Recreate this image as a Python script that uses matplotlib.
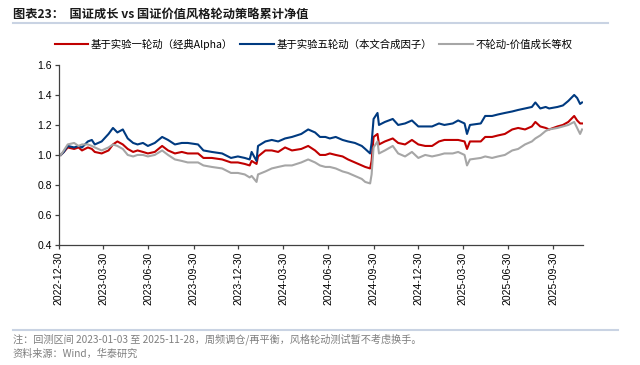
import pandas as pd
import matplotlib
matplotlib.use('Agg')
import matplotlib.pyplot as plt
import matplotlib.dates as mdates

plt.rcParams['font.family'] = ['Liberation Sans', 'Noto Sans CJK SC', 'DejaVu Sans']

dates = ["2023-01-03", "2023-01-09", "2023-01-17", "2023-01-30", "2023-02-08", "2023-02-15",
         "2023-02-27", "2023-03-07", "2023-03-13", "2023-03-27", "2023-04-10", "2023-04-19",
         "2023-04-28", "2023-05-09", "2023-05-19", "2023-05-30", "2023-06-08", "2023-06-19",
         "2023-06-29", "2023-07-13", "2023-07-28", "2023-08-09", "2023-08-23", "2023-09-06",
         "2023-09-18", "2023-10-09", "2023-10-20", "2023-11-06", "2023-11-27", "2023-12-15",
         "2023-12-29", "2024-01-12", "2024-01-22", "2024-01-26", "2024-02-05", "2024-02-08",
         "2024-02-23", "2024-03-07", "2024-03-20", "2024-04-03", "2024-04-17", "2024-05-06",
         "2024-05-20", "2024-06-03", "2024-06-13", "2024-06-24", "2024-07-03", "2024-07-15",
         "2024-07-29", "2024-08-09", "2024-08-23", "2024-09-06", "2024-09-13", "2024-09-23",
         "2024-09-26", "2024-09-30", "2024-10-08", "2024-10-11", "2024-10-23", "2024-11-08",
         "2024-11-19", "2024-12-03", "2024-12-17", "2024-12-30", "2025-01-13", "2025-01-27",
         "2025-02-10", "2025-02-21", "2025-03-10", "2025-03-21", "2025-04-03", "2025-04-08",
         "2025-04-14", "2025-05-06", "2025-05-15", "2025-05-29", "2025-06-10", "2025-06-24",
         "2025-07-09", "2025-07-21", "2025-08-04", "2025-08-18", "2025-08-25", "2025-09-04",
         "2025-09-15", "2025-09-22", "2025-10-09", "2025-10-20", "2025-10-31", "2025-11-12",
         "2025-11-18", "2025-11-24", "2025-11-28"]

exp1_alpha = [1.00, 1.02, 1.05, 1.04, 1.05, 1.03, 1.05, 1.04, 1.02, 1.01, 1.03, 1.07,
              1.09, 1.07, 1.04, 1.02, 1.03, 1.02, 1.01, 1.02, 1.06, 1.03, 1.01, 1.02,
              1.01, 1.01, 0.98, 0.98, 0.97, 0.95, 0.95, 0.94, 0.93, 0.96, 0.94, 0.99,
              1.03, 1.03, 1.02, 1.05, 1.03, 1.04, 1.06, 1.03, 1.00, 1.00, 1.01, 1.00,
              0.99, 0.97, 0.95, 0.93, 0.92, 0.91, 0.96, 1.12, 1.14, 1.07, 1.09, 1.11,
              1.08, 1.07, 1.10, 1.07, 1.06, 1.06, 1.09, 1.10, 1.10, 1.10, 1.09, 1.04,
              1.09, 1.09, 1.12, 1.12, 1.13, 1.14, 1.17, 1.18, 1.17, 1.19, 1.22, 1.19,
              1.18, 1.17, 1.19, 1.20, 1.22, 1.26, 1.23, 1.21, 1.21]

exp5_factor = [1.00, 1.02, 1.06, 1.05, 1.06, 1.05, 1.09, 1.10, 1.07, 1.09, 1.14, 1.18,
               1.15, 1.17, 1.11, 1.08, 1.07, 1.08, 1.06, 1.08, 1.12, 1.10, 1.07, 1.08,
               1.08, 1.07, 1.03, 1.02, 1.01, 0.98, 0.99, 0.98, 0.97, 1.02, 0.96, 1.06,
               1.09, 1.10, 1.09, 1.11, 1.12, 1.14, 1.17, 1.15, 1.12, 1.12, 1.11, 1.12,
               1.10, 1.09, 1.08, 1.06, 1.04, 1.01, 1.08, 1.24, 1.28, 1.20, 1.22, 1.24,
               1.20, 1.21, 1.23, 1.19, 1.19, 1.19, 1.21, 1.20, 1.21, 1.23, 1.21, 1.14,
               1.20, 1.21, 1.26, 1.26, 1.27, 1.28, 1.29, 1.30, 1.31, 1.32, 1.35, 1.31,
               1.32, 1.31, 1.32, 1.33, 1.36, 1.40, 1.38, 1.34, 1.35]

equal_weight = [1.00, 1.03, 1.07, 1.08, 1.06, 1.07, 1.07, 1.06, 1.05, 1.03, 1.05, 1.07,
                1.06, 1.04, 1.00, 0.99, 1.00, 1.00, 0.99, 1.00, 1.03, 1.00, 0.97, 0.96,
                0.95, 0.95, 0.93, 0.92, 0.91, 0.88, 0.88, 0.87, 0.85, 0.86, 0.82, 0.87,
                0.89, 0.91, 0.92, 0.93, 0.93, 0.95, 0.97, 0.95, 0.93, 0.92, 0.92, 0.91,
                0.89, 0.88, 0.86, 0.84, 0.82, 0.81, 0.87, 1.05, 1.09, 1.01, 1.03, 1.06,
                1.01, 0.99, 1.02, 0.98, 1.00, 0.99, 1.00, 1.01, 1.01, 1.02, 1.00, 0.93,
                0.97, 0.98, 0.99, 0.98, 0.99, 1.00, 1.03, 1.04, 1.07, 1.09, 1.11, 1.13,
                1.16, 1.17, 1.18, 1.19, 1.20, 1.22, 1.18, 1.14, 1.17]

tick_dates = ["2022-12-30", "2023-03-30", "2023-06-30", "2023-09-30", "2023-12-30", "2024-03-30",
              "2024-06-30", "2024-09-30", "2024-12-30", "2025-03-30", "2025-06-30", "2025-09-30"]

x = pd.to_datetime(dates)
cjk = ['Noto Sans CJK SC', 'DejaVu Sans']

fig = plt.figure(figsize=(6.4, 3.65), dpi=100)
ax = fig.add_axes([0.092, 0.329, 0.819, 0.493])

red = "#C00000"
navy = "#003A80"
grey = "#A6A6A6"

ax.plot(x, exp1_alpha, color=red, lw=1.5, label="基于实验一轮动（经典Alpha）")
ax.plot(x, exp5_factor, color=navy, lw=1.5, label="基于实验五轮动（本文合成因子）")
ax.plot(x, equal_weight, color=grey, lw=1.5, label="不轮动-价值成长等权")

ax.set_ylim(0.4, 1.6)
ax.set_yticks([0.4, 0.6, 0.8, 1.0, 1.2, 1.4, 1.6])
ax.yaxis.set_major_formatter(matplotlib.ticker.FormatStrFormatter('%.1f'))
ax.set_xlim(pd.Timestamp("2022-12-30"), pd.Timestamp("2025-11-30"))
ax.set_xticks(pd.to_datetime(tick_dates))
ax.xaxis.set_major_formatter(mdates.DateFormatter('%Y-%m-%d'))
plt.setp(ax.get_xticklabels(), rotation=90)

for s in ["top", "right"]:
    ax.spines[s].set_visible(False)
for s in ["left", "bottom"]:
    ax.spines[s].set_color("#404040")
    ax.spines[s].set_linewidth(0.9)
ax.tick_params(axis='both', direction='out', length=3, width=0.9, color="#404040",
               labelsize=7.5, labelcolor="#000000", pad=2)

fig.legend(loc='center', bbox_to_anchor=(0.49, 0.879), ncol=3, frameon=False,
           handlelength=3.2, handletextpad=0.25, columnspacing=0.7,
           prop={'family': cjk, 'size': 7.5})

fig.text(0.02, 0.962, "图表23：  国证成长 vs 国证价值风格轮动策略累计净值", fontsize=8.8,
         fontweight='bold', family=cjk, va='center', color="#1a1a1a")
fig.add_artist(plt.Line2D([0.02, 0.95], [0.936, 0.936], color="#C9D3E3", lw=1.5))
fig.add_artist(plt.Line2D([0.02, 0.965], [0.096, 0.096], color="#C9D3E3", lw=1.5))

fig.text(0.02, 0.071, "注：回测区间 2023-01-03 至 2025-11-28，周频调仓/再平衡，风格轮动测试暂不考虑换手。",
         fontsize=7.3, color="#7F7F7F", family=cjk, va='center')
fig.text(0.02, 0.030, "资料来源：Wind，华泰研究", fontsize=7.3, color="#7F7F7F",
         family=cjk, va='center')

plt.savefig("out.png", dpi=100)
plt.close()
